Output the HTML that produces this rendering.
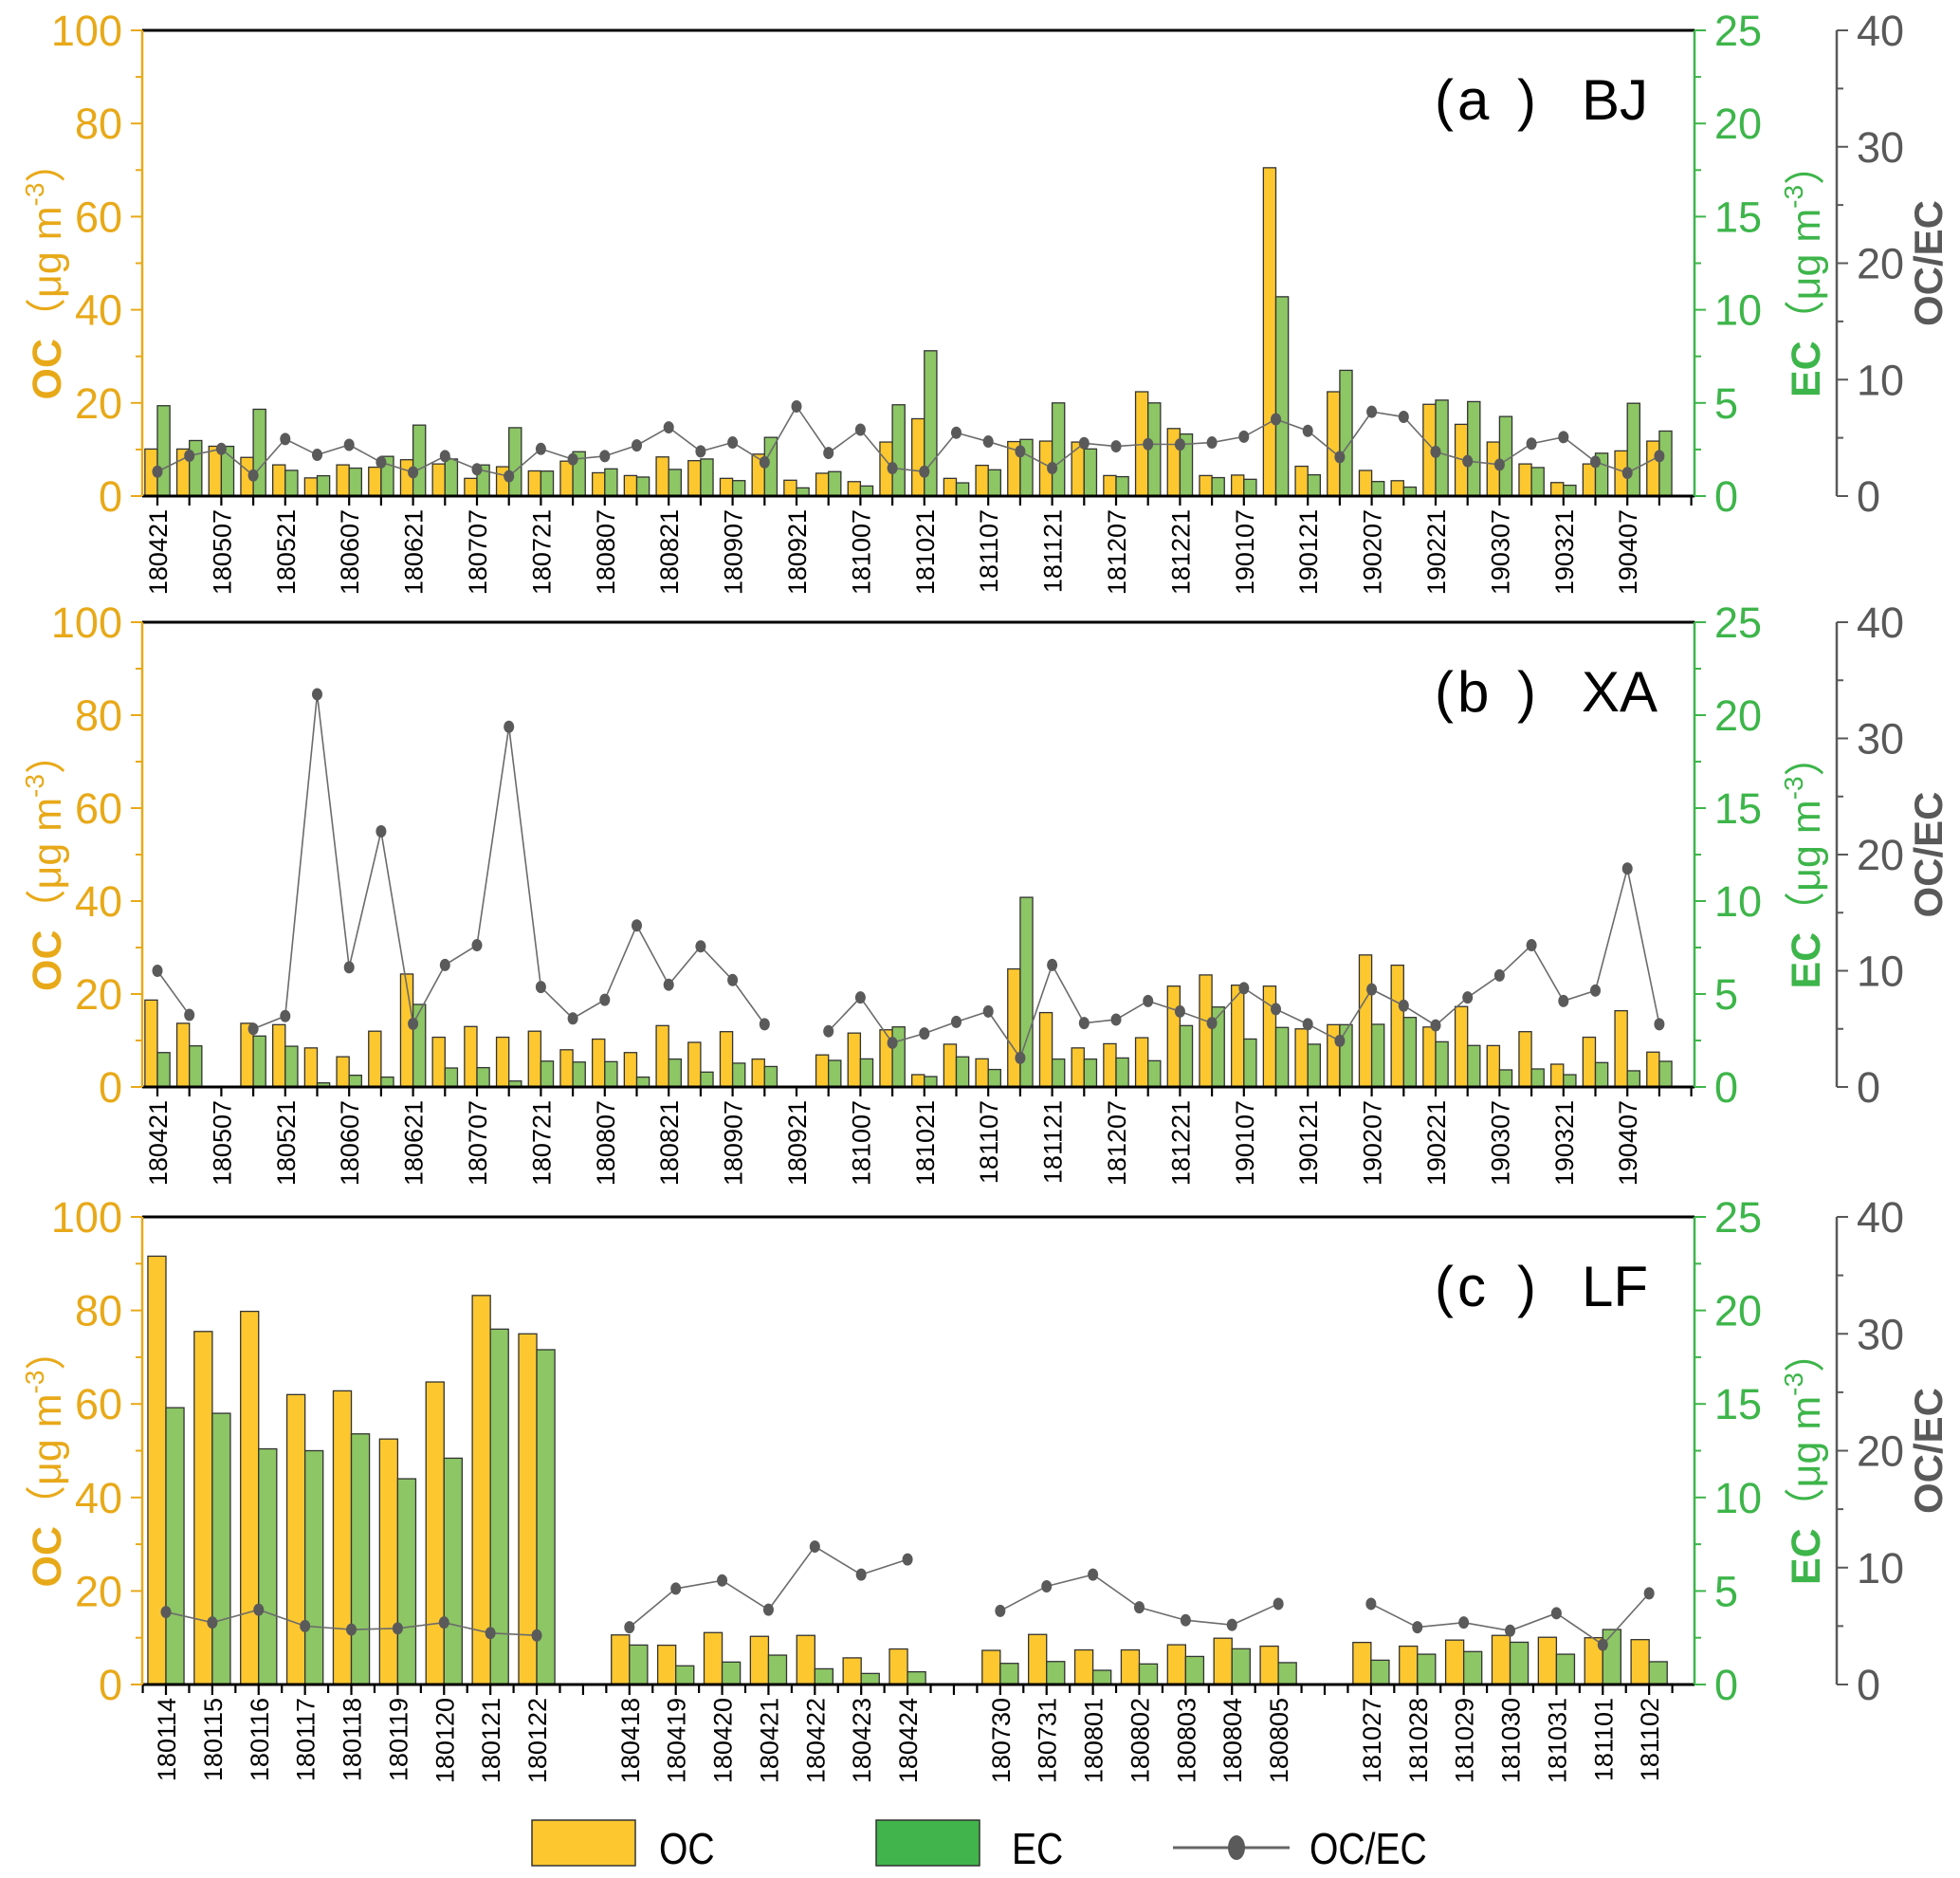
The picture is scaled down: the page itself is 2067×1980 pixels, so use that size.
<!DOCTYPE html>
<html><head><meta charset="utf-8"><style>
html,body{margin:0;padding:0;background:#fff;}
svg{display:block;font-family:"Liberation Sans","Noto Sans CJK SC",sans-serif;}
</style></head><body>
<svg id="chart" width="2067" height="1980" viewBox="0 0 2067 1980" xmlns="http://www.w3.org/2000/svg"></svg>
<script>
// ---------- data ----------
const bjLabels = ["180421","180507","180521","180607","180621","180707","180721","180807","180821","180907","180921","181007","181021","181107","181121","181207","181221","190107","190121","190207","190221","190307","190321","190407"];
const bjOC = [10.1,10.1,10.7,8.3,6.7,3.9,6.7,6.2,7.8,6.9,3.8,6.3,5.4,7.5,5.0,4.4,8.4,7.6,3.8,9.0,3.4,4.9,3.1,11.6,16.6,3.8,6.6,11.7,11.8,11.6,4.4,22.4,14.5,4.4,4.5,70.5,6.4,22.4,5.5,3.3,19.7,15.4,11.6,6.9,2.9,6.9,9.7,11.8];
const bjEC = [4.85,2.98,2.67,4.66,1.38,1.09,1.5,2.13,3.81,1.99,1.67,3.67,1.34,2.38,1.46,1.02,1.43,1.99,0.83,3.15,0.44,1.31,0.54,4.9,7.8,0.71,1.41,3.04,5.0,2.53,1.04,5.0,3.33,0.99,0.9,10.7,1.14,6.75,0.78,0.48,5.15,5.07,4.27,1.53,0.58,2.3,4.98,3.49];
const bjRatio = [2.1,3.46,4.05,1.77,4.9,3.54,4.4,2.9,2.04,3.43,2.3,1.7,4.05,3.16,3.43,4.35,5.9,3.84,4.6,2.9,7.7,3.7,5.7,2.4,2.1,5.44,4.68,3.84,2.4,4.54,4.27,4.46,4.43,4.6,5.1,6.6,5.6,3.35,7.24,6.8,3.8,3.0,2.7,4.5,5.06,2.94,1.99,3.43];

const xaLabels = bjLabels;
const xaOC = [18.7,13.7,null,13.7,13.4,8.4,6.5,12.0,24.3,10.7,13.0,10.7,12.0,8.0,10.3,7.4,13.2,9.6,11.9,6.0,null,6.9,11.6,12.3,2.65,9.2,6.05,25.4,16.0,8.4,9.3,10.6,21.7,24.1,21.9,21.7,12.5,13.4,28.4,26.2,12.9,17.3,8.9,11.9,4.9,10.7,16.4,7.5];
const xaEC = [1.85,2.21,null,2.74,2.19,0.22,0.63,0.53,4.44,1.02,1.04,0.32,1.39,1.34,1.36,0.53,1.5,0.8,1.28,1.1,null,1.43,1.51,3.23,0.56,1.62,0.94,10.2,1.5,1.5,1.56,1.41,3.3,4.3,2.58,3.2,2.3,3.35,3.37,3.74,2.43,2.23,0.92,0.97,0.66,1.31,0.87,1.38];
const xaRatio = [10.0,6.2,null,5.0,6.1,33.8,10.3,22.0,5.44,10.5,12.2,31.0,8.6,5.9,7.5,13.9,8.8,12.1,9.2,5.4,null,4.8,7.7,3.8,4.6,5.6,6.5,2.5,10.5,5.5,5.8,7.4,6.5,5.5,8.5,6.7,5.4,3.97,8.4,7.0,5.3,7.7,9.6,12.2,7.4,8.3,18.8,5.4];

const lfLabels = ["180114","180115","180116","180117","180118","180119","180120","180121","180122","","180418","180419","180420","180421","180422","180423","180424","","180730","180731","180801","180802","180803","180804","180805","","181027","181028","181029","181030","181031","181101","181102"];
const lfOC = [91.6,75.5,79.8,62.0,62.8,52.5,64.7,83.2,75.0,null,10.6,8.4,11.1,10.3,10.5,5.7,7.6,null,7.3,10.7,7.4,7.4,8.5,9.9,8.2,null,9.0,8.2,9.5,10.5,10.1,10.0,9.6];
const lfEC = [14.8,14.5,12.6,12.5,13.4,11.0,12.1,19.0,17.9,null,2.11,1.0,1.2,1.57,0.84,0.59,0.68,null,1.13,1.23,0.76,1.1,1.5,1.91,1.17,null,1.3,1.62,1.76,2.26,1.62,2.94,1.22];
const lfRatio = [6.2,5.3,6.4,5.0,4.7,4.8,5.3,4.4,4.2,null,4.9,8.2,8.9,6.4,11.8,9.4,10.7,null,6.3,8.4,9.4,6.6,5.5,5.1,6.9,null,6.9,4.9,5.3,4.6,6.1,3.4,7.8];

// ---------- drawing ----------
const NS="http://www.w3.org/2000/svg";
const svg=document.getElementById('chart');
function el(tag,attrs,parent,text){const e=document.createElementNS(NS,tag);for(const k in attrs)e.setAttribute(k,attrs[k]);if(text!==undefined)e.textContent=text;(parent||svg).appendChild(e);return e;}
const OCC="#e8a919", ECC="#3db54a", RC="#595959";
const XL=150, XR=1787, XE=1937;

function panel(cfg){
  const g=el('g',{});
  
  
  const top=cfg.top, bot=cfg.bot, H=bot-top;
  const yOC=v=>bot-v/100*H, yEC=v=>bot-v/25*H, yR=v=>bot-v/40*H;
  const n=cfg.oc.length;
  const xc=i=>cfg.x0+cfg.step*i;
  const bw=cfg.step*0.39;
  const tl=el('line',{x1:XL,y1:top,x2:XR,y2:top,stroke:'#000','stroke-width':3},g);
  
  
  for(let i=0;i<n;i++){
    if(cfg.oc[i]!=null){
      const r=el('rect',{x:xc(i)-bw,y:yOC(cfg.oc[i]),width:bw,height:bot-yOC(cfg.oc[i]),fill:'#fdc82f',stroke:'#333','stroke-width':1.3},g);
      
      
    }
    if(cfg.ec[i]!=null){
      const r=el('rect',{x:xc(i),y:yEC(cfg.ec[i]),width:bw,height:bot-yEC(cfg.ec[i]),fill:'#8cc665',stroke:'#333','stroke-width':1.3},g);
      
      
    }
  }
  let seg=[];
  const flush=()=>{if(seg.length>1){const p=el('polyline',{points:seg.join(' '),fill:'none',stroke:'#6b6b6b','stroke-width':1.6},g);}seg=[];};
  for(let i=0;i<n;i++){
    if(cfg.ratio[i]==null){flush();continue;}
    seg.push(xc(i)+','+yR(cfg.ratio[i]));
  }
  flush();
  for(let i=0;i<n;i++){
    if(cfg.ratio[i]==null)continue;
    const c=el('ellipse',{cx:xc(i),cy:yR(cfg.ratio[i]),rx:5.5,ry:6.5,fill:'#5a5a5a'},g);
    
    
  }
  const ba=el('line',{x1:XL,y1:bot,x2:XR,y2:bot,stroke:'#000','stroke-width':3},g);
  
  
  if(cfg.half){
    for(let k=-1;k<=2*n;k++){const x=xc(0)+k*cfg.step/2;if(x<XL-1||x>XR+1)continue;el('line',{x1:x,y1:bot,x2:x,y2:bot+(k%2==0?11:9),stroke:'#000','stroke-width':2.2},g);}
  } else {
    for(let i=0;i<=n;i++){el('line',{x1:xc(i),y1:bot,x2:xc(i),y2:bot+10,stroke:'#000','stroke-width':2.2},g);}
  }
  cfg.labels.forEach((lab,j)=>{
    if(!lab)return;
    const i=cfg.half?j:j*2;
    const x=xc(i)+10, y=bot+14;
    const t=el('text',{x:0,y:0,transform:`translate(${x},${y}) rotate(-90)`,'text-anchor':'end','font-size':27,fill:'#000'},g,lab);
    
    
  });
  el('line',{x1:XL,y1:top,x2:XL,y2:bot,stroke:OCC,'stroke-width':2.5},g);
  for(let v=0;v<=100;v+=10){
    const y=yOC(v);
    el('line',{x1:XL-(v%20==0?12:7),y1:y,x2:XL,y2:y,stroke:OCC,'stroke-width':2},g);
    if(v%20==0){const t=el('text',{x:129,y:y+16,'text-anchor':'end','font-size':45,fill:OCC},g,String(v));}
  }
  const ot=el('text',{x:0,y:0,transform:`translate(64,${(top+bot)/2+8}) rotate(-90)`,'text-anchor':'middle','font-size':43,fill:OCC},g);
  
  
  el('tspan',{'font-weight':'bold'},ot,'OC');
  el('tspan',{},ot,'（μg m');
  el('tspan',{'font-size':28,dy:-18},ot,'-3');
  el('tspan',{dy:18},ot,'）');
  el('line',{x1:XR,y1:top,x2:XR,y2:bot,stroke:ECC,'stroke-width':2.5},g);
  for(let v=0;v<=25;v+=2.5){
    const y=yEC(v);
    el('line',{x1:XR,y1:y,x2:XR+(v%5==0?12:7),y2:y,stroke:ECC,'stroke-width':2},g);
    if(v%5==0){const t=el('text',{x:1808,y:y+16,'text-anchor':'start','font-size':45,fill:ECC},g,String(v));}
  }
  const et=el('text',{x:0,y:0,transform:`translate(1919,${(top+bot)/2+8}) rotate(-90)`,'text-anchor':'middle','font-size':43,fill:ECC},g);
  
  
  el('tspan',{'font-weight':'bold'},et,'EC');
  el('tspan',{},et,'（μg m');
  el('tspan',{'font-size':28,dy:-18},et,'-3');
  el('tspan',{dy:18},et,'）');
  el('line',{x1:XE,y1:top,x2:XE,y2:bot,stroke:RC,'stroke-width':2.5},g);
  for(let v=0;v<=40;v+=5){
    const y=yR(v);
    el('line',{x1:XE,y1:y,x2:XE+(v%10==0?12:7),y2:y,stroke:RC,'stroke-width':2},g);
    if(v%10==0){const t=el('text',{x:1958,y:y+16,'text-anchor':'start','font-size':45,fill:RC},g,String(v));}
  }
  const rt=el('text',{x:0,y:0,transform:`translate(2048,${(top+bot)/2}) rotate(-90)`,'text-anchor':'middle','font-size':42,'font-weight':'bold',fill:RC},g,'OC/EC');
  
  
  // panel label
  const pl=el('text',{x:1513,y:top+94,'font-size':60,fill:'#000'},g);
  
  
  el('tspan',{x:1513},pl,'(');
  el('tspan',{x:1537},pl,cfg.letter);
  el('tspan',{x:1600},pl,')');
  el('tspan',{x:1668},pl,cfg.site);
}

panel({id:'bj',letter:'a',site:'BJ',top:32,bot:523,x0:166,step:33.7,oc:bjOC,ec:bjEC,ratio:bjRatio,labels:bjLabels,half:false});
panel({id:'xa',letter:'b',site:'XA',top:656,bot:1146,x0:166,step:33.7,oc:xaOC,ec:xaEC,ratio:xaRatio,labels:xaLabels,half:false});
panel({id:'lf',letter:'c',site:'LF',top:1283,bot:1776,x0:175,step:48.88,oc:lfOC,ec:lfEC,ratio:lfRatio,labels:lfLabels,half:true});

const lg=el('g',{});


const l1=el('rect',{x:561,y:1919,width:109,height:48,fill:'#fdc82f',stroke:'#333','stroke-width':1.5},lg);


const l1t=el('text',{x:695,y:1965,'font-size':46,fill:'#000',transform:'translate(695,0) scale(0.85,1) translate(-695,0)'},lg,'OC');


const l2=el('rect',{x:924,y:1919,width:109,height:48,fill:'#41b44b',stroke:'#333','stroke-width':1.5},lg);


const l2t=el('text',{x:1067,y:1965,'font-size':46,fill:'#000',transform:'translate(1067,0) scale(0.85,1) translate(-1067,0)'},lg,'EC');


const l3=el('line',{x1:1237,y1:1948,x2:1360,y2:1948,stroke:'#666','stroke-width':3},lg);


const l3d=el('ellipse',{cx:1304,cy:1948,rx:9,ry:13,fill:'#5a5a5a'},lg);


const l3t=el('text',{x:1381,y:1965,'font-size':46,fill:'#000',transform:'translate(1381,0) scale(0.85,1) translate(-1381,0)'},lg,'OC/EC');


</script>
</body></html>
